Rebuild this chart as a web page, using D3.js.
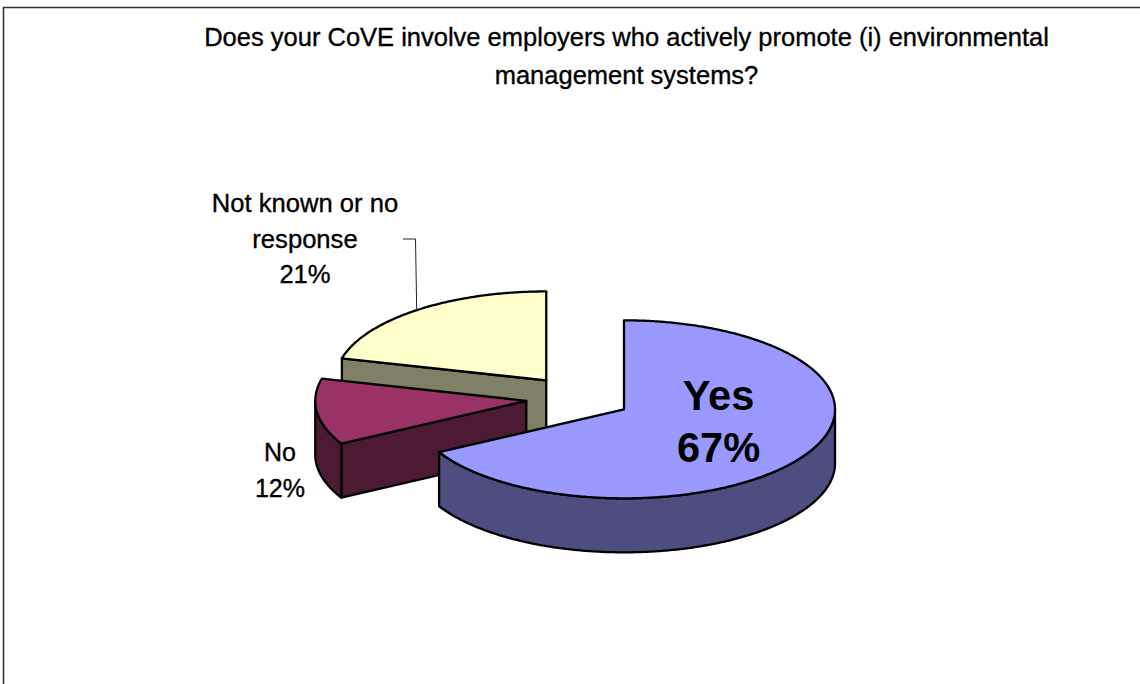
<!DOCTYPE html>
<html>
<head>
<meta charset="utf-8">
<script src="https://cdnjs.cloudflare.com/ajax/libs/d3/7.8.5/d3.min.js"></script>
<style>
  html, body { margin: 0; padding: 0; background: #fff; }
  svg { display: block; font-family: "Liberation Sans", Arial, sans-serif; }
  text { stroke: #000; stroke-width: 0.35px; }
  text.heavy { stroke: none; }
</style>
</head>
<body>
<svg id="chart" width="1140" height="684"></svg>
<script>
// Survey answers, in pie order
const categories = ["Yes", "No", "Not known or no response"];
const shares = [67, 12, 21];
const topColours = ["#9999ff", "#993366", "#ffffcc"];
const sideColours = ["#4d4d80", "#4d1a33", "#808066"];
const titleLines = [
  "Does your CoVE involve employers who actively promote (i) environmental",
  "management systems?"
];

// Tilted pie geometry
const centre = { x: 578.6, y: 398 };
const radiusX = 211, radiusY = 89, depth = 54, explode = 0.25;
const outline = "#000";

const svg = d3.select("#chart");

// Frame around the chart area (open on the right and at the bottom)
svg.append("path")
  .attr("d", "M3.5,684V7.5H1140")
  .attr("fill", "none")
  .attr("stroke", "#333")
  .attr("stroke-width", 1.6);

// Title
svg.append("g").selectAll("text").data(titleLines).join("text")
  .attr("x", 626.5)
  .attr("y", (d, i) => 46 + i * 38)
  .attr("text-anchor", "middle")
  .attr("font-size", 25.5)
  .attr("fill", "#000")
  .text(d => d);

const arcs = d3.pie().sort(null).value(d => d)(shares);

// Apex of a slice, pushed outwards along its middle angle
function apex(a) {
  const mid = (a.startAngle + a.endAngle) / 2;
  return {
    x: centre.x + radiusX * explode * Math.sin(mid),
    y: centre.y - radiusY * explode * Math.cos(mid)
  };
}
const rimPoint = (c, t, dy = 0) => [
  c.x + radiusX * Math.sin(t),
  c.y - radiusY * Math.cos(t) + dy
];
const curve = d3.line();
function sweep(c, from, to, dy = 0) {
  const n = Math.max(2, Math.ceil(Math.abs(to - from) / 0.01));
  return d3.range(n + 1).map(i => rimPoint(c, from + (to - from) * i / n, dy));
}

// Leader line from the "Not known" label to its slice
svg.append("path")
  .attr("d", d3.line()([[403, 239], [415.5, 239], [416.7, 309]]))
  .attr("fill", "none")
  .attr("stroke", "#222")
  .attr("stroke-width", 1);

const face = (g, pts, fill, sw = 2.3) => g.append("path")
  .attr("d", curve(pts) + "Z")
  .attr("fill", fill)
  .attr("stroke", outline)
  .attr("stroke-width", sw)
  .attr("stroke-linejoin", "round");

// Paint back to front so nearer slices overlap the far ones
[2, 1, 0].forEach(i => {
  const a = arcs[i];
  const c = apex(a);
  const g = svg.append("g").attr("class", "slice");
  const apexTop = [c.x, c.y], apexLow = [c.x, c.y + depth];

  // Cut wall facing the viewer, along the slice's starting edge
  if (i !== 0) {
    face(g, [apexTop, rimPoint(c, a.startAngle), rimPoint(c, a.startAngle, depth), apexLow], sideColours[i]);
  }

  // Outer rim, only the part on the near half of the ellipse
  const from = Math.max(a.startAngle, Math.PI / 2);
  const to = Math.min(a.endAngle, Math.PI * 1.5);
  if (to > from) {
    face(g, sweep(c, from, to).concat(sweep(c, to, from, depth)), sideColours[i]);
  }

  // Top surface
  face(g, [apexTop].concat(sweep(c, a.startAngle, a.endAngle)), topColours[i]);
});

// Data labels
const pct = shares.map(v => v + "%");
const labels = [
  { lines: [categories[0], pct[0]], x: 718.5, y: 410, size: 41.6, step: 52, weight: "bold" },
  { lines: [categories[1], pct[1]], x: 280, y: 461, size: 25, step: 36, weight: "normal" },
  { lines: ["Not known or no", "response", pct[2]], x: 305, y: 212, size: 25.6, step: 35.5, weight: "normal" }
];
labels.forEach(l => {
  svg.append("g").selectAll("text").data(l.lines).join("text")
    .attr("class", l.weight === "bold" ? "heavy" : null)
    .attr("x", l.x)
    .attr("y", (d, i) => l.y + i * l.step)
    .attr("text-anchor", "middle")
    .attr("font-size", l.size)
    .attr("font-weight", l.weight)
    .attr("fill", "#000")
    .text(d => d);
});
</script>
</body>
</html>
